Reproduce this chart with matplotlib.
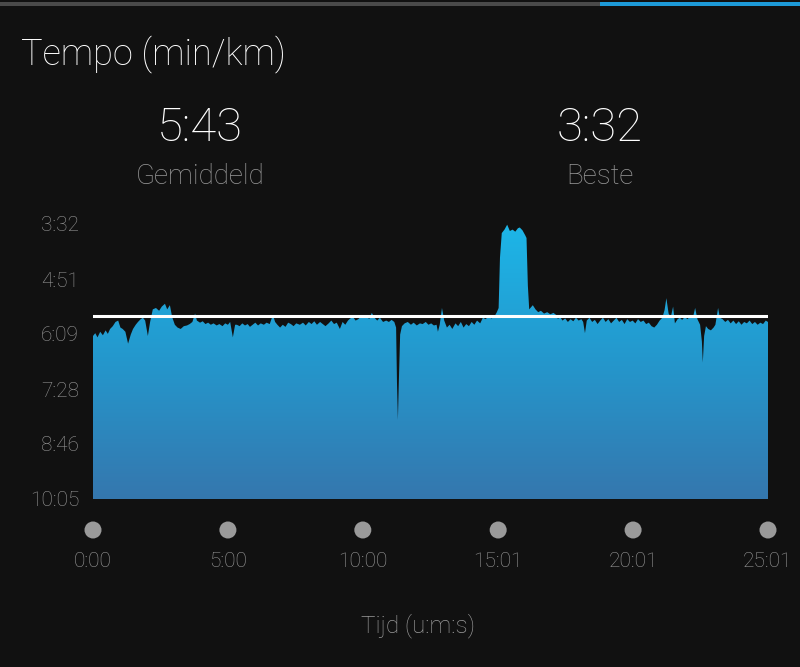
import matplotlib
matplotlib.use("Agg")
import matplotlib.pyplot as plt
import numpy as np
from matplotlib.colors import LinearSegmentedColormap
from matplotlib.patches import Rectangle
import matplotlib.transforms as mtransforms

plt.rcParams['font.family'] = ['Roboto', 'DejaVu Sans']

# ---- data ----
time_s = [0, 5, 10, 16, 22, 28, 33, 38, 44, 50, 56, 61, 66, 72, 78, 84, 89, 95, 100, 106,
          111, 116, 122, 127, 133, 140, 147, 153, 160, 165, 171, 176, 182, 188, 195, 202, 209, 215, 221, 227,
          231, 238, 244, 250, 256, 262, 268, 275, 281, 288, 294, 300, 305, 311, 316, 320, 326, 332, 338, 344,
          349, 355, 361, 367, 373, 380, 386, 393, 400, 405, 410, 416, 422, 428, 434, 440, 446, 452, 460, 467,
          473, 480, 486, 492, 498, 505, 511, 517, 524, 530, 536, 542, 549, 555, 561, 567, 572, 578, 584, 590,
          596, 602, 608, 614, 620, 626, 632, 638, 645, 652, 658, 664, 670, 674, 676, 678, 680, 683, 687, 693,
          700, 707, 713, 720, 727, 733, 740, 746, 752, 758, 764, 767, 771, 776, 781, 787, 793, 799, 806, 812,
          818, 824, 830, 836, 842, 848, 854, 861, 867, 873, 880, 886, 892, 898, 902, 905, 909, 915, 921, 927,
          933, 939, 945, 949, 955, 961, 964, 967, 970, 978, 984, 990, 996, 1003, 1010, 1017, 1024, 1030, 1034, 1038,
          1044, 1050, 1056, 1062, 1068, 1074, 1080, 1086, 1090, 1094, 1098, 1104, 1110, 1116, 1122, 1128, 1134, 1140, 1146, 1152,
          1158, 1164, 1170, 1176, 1182, 1188, 1194, 1200, 1206, 1212, 1218, 1224, 1230, 1236, 1242, 1248, 1254, 1260, 1266, 1271,
          1275, 1280, 1285, 1290, 1294, 1300, 1305, 1310, 1316, 1322, 1328, 1334, 1339, 1344, 1350, 1354, 1356, 1359, 1363, 1368,
          1374, 1380, 1384, 1390, 1394, 1400, 1406, 1412, 1418, 1424, 1430, 1436, 1442, 1448, 1454, 1460, 1466, 1472, 1478, 1484,
          1490, 1496, 1501]
pace_s = [372, 368, 374, 366, 371, 364, 369, 362, 358, 352, 350, 360, 362, 366, 383, 370, 362, 356, 352, 348,
          346, 350, 372, 352, 334, 332, 336, 330, 326, 334, 328, 345, 356, 360, 362, 358, 357, 355, 352, 340,
          350, 353, 351, 355, 353, 356, 354, 357, 355, 358, 354, 356, 352, 374, 356, 356, 358, 354, 357, 355,
          359, 356, 353, 357, 354, 356, 353, 355, 342, 352, 356, 360, 356, 359, 353, 355, 358, 354, 356, 353,
          357, 352, 355, 351, 356, 352, 355, 358, 354, 350, 355, 353, 362, 352, 356, 350, 347, 345, 350, 348,
          344, 346, 342, 348, 339, 346, 350, 346, 352, 350, 352, 349, 352, 360, 440, 492, 440, 370, 358, 354,
          352, 356, 353, 357, 354, 355, 352, 356, 354, 357, 356, 366, 356, 332, 350, 360, 356, 362, 354, 358,
          352, 360, 355, 358, 352, 356, 350, 354, 346, 348, 344, 347, 345, 338, 332, 260, 225, 220, 213, 222,
          220, 223, 218, 217, 221, 228, 232, 300, 334, 328, 334, 338, 336, 340, 338, 341, 339, 342, 348, 344,
          350, 347, 352, 348, 351, 346, 350, 348, 352, 368, 350, 346, 352, 349, 355, 350, 346, 352, 348, 354,
          350, 346, 352, 349, 355, 348, 352, 350, 354, 348, 352, 350, 355, 353, 358, 360, 356, 350, 346, 335,
          318, 340, 345, 330, 354, 348, 346, 349, 345, 348, 344, 346, 332, 348, 356, 380, 410, 372, 358, 362,
          364, 360, 356, 332, 346, 348, 352, 349, 354, 350, 355, 351, 356, 352, 354, 350, 355, 352, 356, 353,
          355, 350, 352]

avg_pace = 343
best_pace = 212
y_ticks = [212, 291, 369, 448, 526, 605]
y_labels = ["3:32", "4:51", "6:09", "7:28", "8:46", "10:05"]
x_ticks = [0, 300, 600, 901, 1201, 1501]
x_labels = ["0:00", "5:00", "10:00", "15:01", "20:01", "25:01"]

BG = "#111111"
GREY = "#9a9a9a"

fig = plt.figure(figsize=(8, 6.67), dpi=100, facecolor=BG)

# top progress bar
fig.add_artist(Rectangle((0, 1 - 6/667), 600/800, 4/667, transform=fig.transFigure,
                         facecolor="#4a4a4a", edgecolor="none"))
fig.add_artist(Rectangle((600/800, 1 - 6/667), 200/800, 4/667, transform=fig.transFigure,
                         facecolor="#1d9ad8", edgecolor="none"))

fig.text(21/800, 1 - 54/667, "Tempo (min/km)", color="white", fontsize=26, fontweight="light",
         ha="left", va="center")
fig.text(200/800, 1 - 128/667, "5:43", color="white", fontsize=34, fontweight="light",
         ha="center", va="center")
fig.text(200/800, 1 - 176/667, "Gemiddeld", color=GREY, fontsize=20, fontweight="light",
         ha="center", va="center")
fig.text(600/800, 1 - 128/667, "3:32", color="white", fontsize=34, fontweight="light",
         ha="center", va="center")
fig.text(600/800, 1 - 176/667, "Beste", color=GREY, fontsize=20, fontweight="light",
         ha="center", va="center")

ax = fig.add_axes([93/800, 1 - 499/667, 675/800, 275/667])
ax.set_facecolor(BG)
for s in ax.spines.values():
    s.set_visible(False)

t = np.array(time_s, dtype=float)
p = np.array(pace_s, dtype=float)

ax.set_xlim(0, 1501)
ax.set_ylim(605, 212)

poly = ax.fill_between(t, p, 605, facecolor="none", edgecolor="none")
cmap = LinearSegmentedColormap.from_list("g", ["#3577ae", "#2497cc", "#1db6e8"])
grad = np.linspace(0, 1, 256).reshape(-1, 1)
im = ax.imshow(grad[::-1], extent=[0, 1501, 605, 212], origin="upper", aspect="auto", cmap=cmap,
               zorder=1)
im.set_extent([0, 1501, 605, 212])
path = poly.get_paths()[0]
im.set_clip_path(path, transform=ax.transData)

ax.plot([-2, 1501], [avg_pace, avg_pace], color="white", lw=2.2, zorder=3, solid_capstyle="butt")

ax.set_yticks(y_ticks, y_labels)
ax.set_xticks(x_ticks, x_labels)
ax.tick_params(axis="both", length=0, colors=GREY, labelsize=15)
ax.tick_params(axis="y", pad=10)
ax.tick_params(axis="x", pad=38)
for lab in ax.get_xticklabels() + ax.get_yticklabels():
    lab.set_fontweight("light")

trans = mtransforms.blended_transform_factory(ax.transData, ax.transAxes)
ax.scatter(x_ticks, [-31/275] * len(x_ticks), s=150, color=GREY, transform=trans, clip_on=False,
           edgecolors="none", zorder=4)

fig.text(418/800, 1 - 626/667, "Tijd (u:m:s)", color=GREY, fontsize=17.5, fontweight="light",
         ha="center", va="center")

fig.savefig("out.png", dpi=100, facecolor=BG)
